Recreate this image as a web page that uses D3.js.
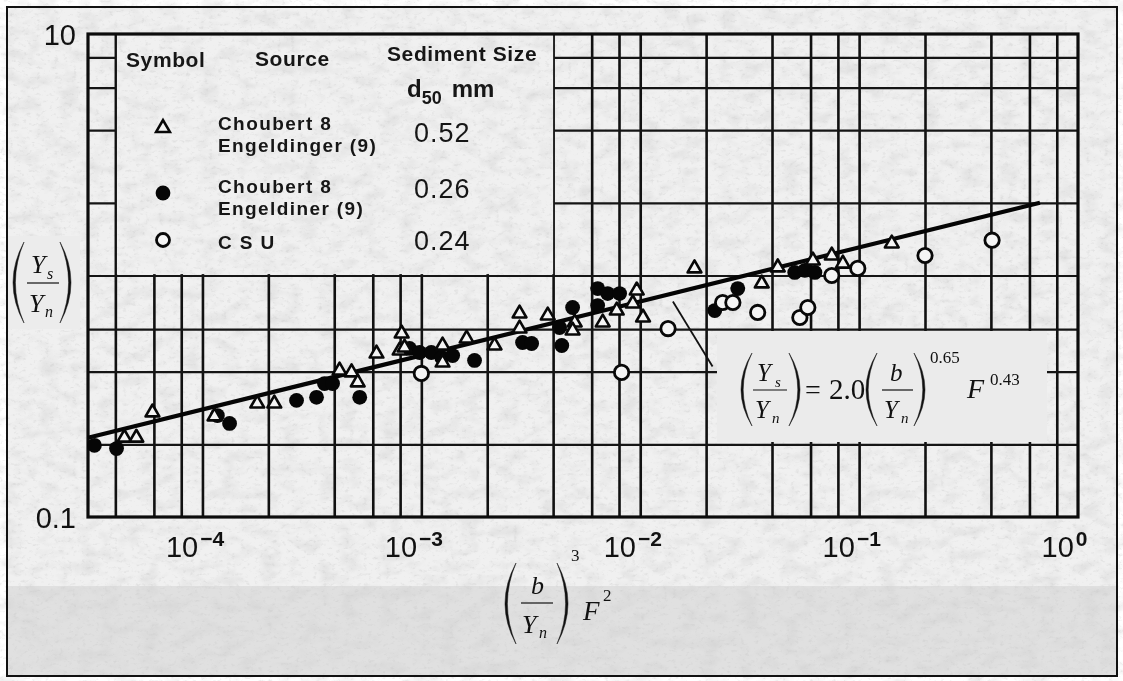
<!DOCTYPE html>
<html>
<head>
<meta charset="utf-8">
<script src="https://cdn.jsdelivr.net/npm/d3@7/dist/d3.min.js"></script>
<style>
  html, body { margin: 0; padding: 0; background: #ffffff; }
  svg { display: block; }
  .sans { font-family: "Liberation Sans", Arial, Helvetica, sans-serif; }
  .serif { font-family: "Liberation Serif", "Times New Roman", serif; }
</style>
</head>
<body>
<svg id="chart" width="1123" height="681"></svg>
<script>
// ---- Data: scour depth ratio vs. combined width / Froude parameter ----
// Choubert & Engeldinger (9), d50 = 0.52 mm (open triangles)
const triX = [4.4e-5, 4.99e-5, 5.91e-5, 1.135e-4, 1.78e-4, 2.13e-4, 4.23e-4, 4.8e-4, 5.12e-4, 6.24e-4,
              7.96e-4, 8.13e-4, 8.38e-4, 1.25e-3, 1.25e-3, 1.61e-3, 2.16e-3, 2.81e-3, 2.81e-3, 3.78e-3,
              5.02e-3, 4.91e-3, 6.74e-3, 7.81e-3, 9.25e-3, 9.64e-3, 1.03e-2, 1.77e-2, 3.59e-2, 4.25e-2,
              6.15e-2, 7.5e-2, 8.43e-2, 0.141];
const triY = [0.213, 0.213, 0.271, 0.261, 0.295, 0.295, 0.404, 0.397, 0.361, 0.475,
              0.489, 0.575, 0.503, 0.513, 0.436, 0.548, 0.513, 0.696, 0.603, 0.683,
              0.639, 0.592, 0.639, 0.716, 0.766, 0.867, 0.670, 1.07, 0.927, 1.08,
              1.154, 1.21, 1.12, 1.357];

// Choubert & Engeldiner (9), d50 = 0.26 mm (filled circles)
const dotX = [3.21e-5, 4.05e-5, 1.17e-4, 1.33e-4, 2.69e-4, 3.32e-4, 3.61e-4, 3.93e-4, 5.23e-4, 8.83e-4,
              9.82e-4, 1.11e-3, 1.24e-3, 1.39e-3, 1.75e-3, 2.9e-3, 3.19e-3, 4.28e-3, 4.38e-3, 4.91e-3,
              6.39e-3, 7.1e-3, 8.05e-3, 6.39e-3, 2.19e-2, 2.79e-2, 5.08e-2, 5.65e-2, 6.28e-2];
const dotY = [0.198, 0.192, 0.263, 0.244, 0.304, 0.313, 0.357, 0.357, 0.313, 0.499,
              0.480, 0.480, 0.457, 0.466, 0.445, 0.528, 0.523, 0.609, 0.513, 0.737,
              0.883, 0.842, 0.842, 0.751, 0.716, 0.883, 1.03, 1.05, 1.03];

// CSU, d50 = 0.24 mm (open circles)
const csuX = [1.0e-3, 8.22e-3, 1.34e-2, 2.38e-2, 2.65e-2, 3.44e-2, 5.36e-2, 5.83e-2, 7.5e-2, 9.86e-2, 0.2, 0.405];
const csuY = [0.393, 0.397, 0.603, 0.773, 0.773, 0.703, 0.670, 0.737, 1.0, 1.07, 1.21, 1.40];

// Fitted relation, drawn as a straight line on the log-log grid
const fitX = [3e-5, 0.67];
const fitY = [0.213, 2.0];

// Leader from the fitted line down to the equation
const leaderX = [0.0141, 0.0214];
const leaderY = [0.78, 0.42];

// Axes: domains, grid lines and labelled decades
const xDomain = [3e-5, 1];
const yDomain = [0.1, 10];
const xGridValues = [4e-5, 6e-5, 8e-5, 1e-4, 2e-4, 4e-4, 6e-4, 8e-4, 1e-3, 2e-3, 4e-3, 6e-3, 8e-3,
                     1e-2, 2e-2, 4e-2, 6e-2, 8e-2, 0.1, 0.2, 0.4, 0.6, 0.8];
const yGridValues = [0.2, 0.4, 0.6, 1, 2, 4, 6, 8];
const xTickValues = [1e-4, 1e-3, 1e-2, 1e-1, 1];
const xTickExponents = ["\u22124", "\u22123", "\u22122", "\u22121", "0"];
const yTickValues = [0.1, 10];
const yTickLabels = ["0.1", "10"];

// Legend rows
const legendSources = [["Choubert 8", "Engeldinger (9)"], ["Choubert 8", "Engeldiner (9)"], ["C S U"]];
const legendSizes = ["0.52", "0.26", "0.24"];

// ---- Layout ----
const W = 1123, H = 681;
const plot = { left: 88, right: 1078, top: 34, bottom: 517 };
const svg = d3.select("#chart");
const defs = svg.append("defs");

// paper grain
const grain = defs.append("filter").attr("id", "grain")
  .attr("filterUnits", "userSpaceOnUse").attr("x", 0).attr("y", 0).attr("width", W).attr("height", H);
grain.append("feTurbulence").attr("type", "fractalNoise").attr("baseFrequency", "0.22 0.3")
  .attr("numOctaves", 4).attr("seed", 11).attr("result", "noise");
grain.append("feColorMatrix").attr("type", "matrix")
  .attr("values", "0 0 0 0 0.55  0 0 0 0 0.55  0 0 0 0 0.55  -3.4 0 0 0 1.45");

const grainSoft = defs.append("filter").attr("id", "grainSoft")
  .attr("filterUnits", "userSpaceOnUse").attr("x", 0).attr("y", 0).attr("width", W).attr("height", H);
grainSoft.append("feTurbulence").attr("type", "fractalNoise").attr("baseFrequency", "0.05 0.08")
  .attr("numOctaves", 3).attr("seed", 4);
grainSoft.append("feColorMatrix").attr("type", "matrix")
  .attr("values", "0 0 0 0 0.6  0 0 0 0 0.6  0 0 0 0 0.6  -2.2 0 0 0 1.25");

// background
svg.append("rect").attr("x", 0).attr("y", 0).attr("width", W).attr("height", H).attr("fill", "#ffffff");
svg.append("rect").attr("x", 7).attr("y", 7).attr("width", 1110).attr("height", 669).attr("fill", "#f0f0f0");
svg.append("rect").attr("x", 7).attr("y", 586).attr("width", 1110).attr("height", 90).attr("fill", "#e0e0e0");
svg.append("rect").attr("x", 7).attr("y", 586).attr("width", 1110).attr("height", 90)
  .attr("filter", "url(#grainSoft)").attr("opacity", 0.4);
svg.append("rect").attr("x", 7).attr("y", 7).attr("width", 1110).attr("height", 579)
  .attr("filter", "url(#grain)").attr("opacity", 0.32);

// scales
const x = d3.scaleLog().domain(xDomain).range([plot.left, plot.right]);
const y = d3.scaleLog().domain(yDomain).range([plot.bottom, plot.top]);

// the legend panel sits inside the grid, where no grid lines are drawn
const legendPanel = { x0: x(4e-5), x1: x(4e-3), y0: plot.top, y1: y(1) };
const mask = defs.append("mask").attr("id", "gridMask").attr("maskUnits", "userSpaceOnUse")
  .attr("x", 0).attr("y", 0).attr("width", W).attr("height", H);
mask.append("rect").attr("x", 0).attr("y", 0).attr("width", W).attr("height", H).attr("fill", "white");
mask.append("rect").attr("x", legendPanel.x0 + 1.6).attr("y", legendPanel.y0)
  .attr("width", legendPanel.x1 - legendPanel.x0 - 1.6).attr("height", legendPanel.y1 - legendPanel.y0 - 1.4)
  .attr("fill", "black");

const gridG = svg.append("g").attr("mask", "url(#gridMask)");
const plotH = plot.bottom - plot.top, plotW = plot.right - plot.left;

gridG.append("g").attr("transform", `translate(0,${plot.bottom})`)
  .call(d3.axisBottom(x).tickValues(xGridValues).tickSize(-plotH).tickFormat(""))
  .call(g => g.select(".domain").remove())
  .call(g => g.selectAll("line").attr("stroke", "#111").attr("stroke-width", 2.6));

gridG.append("g").attr("transform", `translate(${plot.left},0)`)
  .call(d3.axisLeft(y).tickValues(yGridValues).tickSize(-plotW).tickFormat(""))
  .call(g => g.select(".domain").remove())
  .call(g => g.selectAll("line").attr("stroke", "#151515").attr("stroke-width", 2.2));

// frame of the plot
svg.append("rect").attr("x", plot.left).attr("y", plot.top).attr("width", plotW).attr("height", plotH)
  .attr("fill", "none").attr("stroke", "#0c0c0c").attr("stroke-width", 3.2);

// equation panel (covers the grid)
svg.append("rect").attr("x", 717).attr("y", 331).attr("width", 330).attr("height", 111).attr("fill", "#ebebeb");

// ---- tick labels ----
const xAxisG = svg.append("g").attr("transform", `translate(0,${plot.bottom})`)
  .call(d3.axisBottom(x).tickValues(xTickValues).tickSize(0).tickFormat(""));
xAxisG.select(".domain").remove();
xAxisG.selectAll(".tick").each(function (d, i) {
  const t = d3.select(this).append("text").attr("class", "sans")
    .attr("x", -37).attr("y", 40).attr("fill", "#111").attr("text-anchor", "start")
    .style("font-size", "29px");
  t.append("tspan").text("10");
  t.append("tspan").attr("dy", -11).attr("dx", 2).style("font-size", "21px").style("font-weight", "bold")
    .text(xTickExponents[i]);
});

const yAxisG = svg.append("g").attr("transform", `translate(${plot.left},0)`)
  .call(d3.axisLeft(y).tickValues(yTickValues).tickSize(0).tickFormat((d, i) => yTickLabels[i]));
yAxisG.select(".domain").remove();
yAxisG.selectAll("text").attr("class", "sans").attr("x", -12).attr("dy", "0.36em")
  .attr("fill", "#111").style("font-size", "29px");

// ---- fitted line and leader ----
const lineGen = d3.line().x(d => x(d[0])).y(d => y(d[1]));
svg.append("path").datum(d3.zip(fitX, fitY)).attr("d", lineGen)
  .attr("fill", "none").attr("stroke", "#050505").attr("stroke-width", 4.2).attr("stroke-linecap", "butt");
svg.append("path").datum(d3.zip(leaderX, leaderY)).attr("d", lineGen)
  .attr("fill", "none").attr("stroke", "#111").attr("stroke-width", 1.8);

// ---- markers ----
const tri = d3.symbol().type(d3.symbolTriangle).size(82);
const markG = svg.append("g");
markG.selectAll("circle.dot").data(d3.zip(dotX, dotY)).join("circle").attr("class", "dot")
  .attr("cx", d => x(d[0])).attr("cy", d => y(d[1])).attr("r", 7.4).attr("fill", "#060606");
markG.selectAll("path.tri").data(d3.zip(triX, triY)).join("path").attr("class", "tri")
  .attr("d", tri).attr("transform", d => `translate(${x(d[0])},${y(d[1])})`)
  .attr("fill", "#f4f4f4").attr("stroke", "#080808").attr("stroke-width", 2.6).attr("stroke-linejoin", "round");
markG.selectAll("circle.csu").data(d3.zip(csuX, csuY)).join("circle").attr("class", "csu")
  .attr("cx", d => x(d[0])).attr("cy", d => y(d[1])).attr("r", 7.2)
  .attr("fill", "#f4f4f4").attr("stroke", "#080808").attr("stroke-width", 2.8);

// ---- legend ----
const lg = svg.append("g").attr("class", "sans").attr("fill", "#161616").style("font-weight", "bold");
lg.append("text").attr("x", 126).attr("y", 67).style("font-size", "21px").style("letter-spacing", "0.6px").text("Symbol");
lg.append("text").attr("x", 255).attr("y", 66).style("font-size", "21px").style("letter-spacing", "0.6px").text("Source");
lg.append("text").attr("x", 387).attr("y", 61).style("font-size", "21px").style("letter-spacing", "0.6px").text("Sediment Size");
const d50 = lg.append("text").attr("x", 407).attr("y", 97).style("font-size", "24px");
d50.append("tspan").text("d");
d50.append("tspan").attr("dy", 7).style("font-size", "18px").text("50");
d50.append("tspan").attr("dy", -7).attr("dx", 10).text("mm");

const rowY = [128, 193, 240];
lg.append("path").attr("d", tri()).attr("transform", `translate(163,${rowY[0]})`)
  .attr("fill", "#f4f4f4").attr("stroke", "#080808").attr("stroke-width", 2.6);
lg.append("circle").attr("cx", 163).attr("cy", rowY[1]).attr("r", 7.4).attr("fill", "#060606");
lg.append("circle").attr("cx", 163).attr("cy", rowY[2]).attr("r", 6.5)
  .attr("fill", "#f4f4f4").attr("stroke", "#080808").attr("stroke-width", 2.8);

// source names: two-line entries get one text line per row
const srcBase = [[130, 152], [193, 215], [249]];
legendSources.forEach((lines, i) => {
  lines.forEach((s, j) => {
    lg.append("text").attr("x", 218).attr("y", srcBase[i][j]).style("font-size", "19px")
      .style("letter-spacing", "1.4px").text(s);
  });
});
const sizeBase = [142, 198, 250];
legendSizes.forEach((s, i) => {
  lg.append("text").attr("x", 414).attr("y", sizeBase[i]).style("font-size", "27px")
    .style("font-weight", "normal").style("letter-spacing", "1px").text(s);
});

// ---- math labels ----
function paren(g, xl, y0, y1, open, w, t) {
  const mid = (y0 + y1) / 2;
  let d;
  if (open) {
    const xr = xl + w;
    d = `M${xr},${y0} Q${2 * xl - xr},${mid} ${xr},${y1} Q${2 * (xl + t) - xr},${mid} ${xr},${y0} Z`;
  } else {
    const xr = xl + w; // bulge on the right
    d = `M${xl},${y0} Q${2 * xr - xl},${mid} ${xl},${y1} Q${2 * (xr - t) - xl},${mid} ${xl},${y0} Z`;
  }
  g.append("path").attr("d", d).attr("fill", "#111").attr("stroke", "#111").attr("stroke-width", 0.5);
}
function italic(g, s, px, py, size) {
  return g.append("text").attr("class", "serif").attr("x", px).attr("y", py)
    .style("font-style", "italic").style("font-size", size + "px").attr("fill", "#111").text(s);
}
function roman(g, s, px, py, size) {
  return g.append("text").attr("class", "serif").attr("x", px).attr("y", py)
    .style("font-size", size + "px").attr("fill", "#111").text(s);
}
function bar(g, x0, x1, yy) {
  g.append("line").attr("x1", x0).attr("x2", x1).attr("y1", yy).attr("y2", yy)
    .attr("stroke", "#111").attr("stroke-width", 1.2);
}

// y-axis title: (Ys / Yn)
svg.append("rect").attr("x", 8).attr("y", 236).attr("width", 72).attr("height", 93).attr("fill", "#ececec");
const yt = svg.append("g");
paren(yt, 13, 242, 323, true, 11, 2.4);
italic(yt, "Y", 31, 273, 26); italic(yt, "s", 47, 279, 16);
bar(yt, 27, 59, 283);
italic(yt, "Y", 29, 312, 26); italic(yt, "n", 45, 317, 16);
paren(yt, 60, 242, 323, false, 11, 2.4);

// x-axis title: (b / Yn)^3 F^2
const xt = svg.append("g");
paren(xt, 505, 563, 644, true, 11, 2.4);
italic(xt, "b", 531, 594, 26);
bar(xt, 521, 553, 603);
italic(xt, "Y", 522, 633, 26); italic(xt, "n", 539, 638, 16);
paren(xt, 557, 563, 644, false, 11, 2.4);
roman(xt, "3", 571, 561, 17);
italic(xt, "F", 583, 620, 27);
roman(xt, "2", 603, 601, 17);

// fitted equation
const eq = svg.append("g");
paren(eq, 741, 353, 426, true, 11, 2.2);
italic(eq, "Y", 757, 381, 25); italic(eq, "s", 775, 387, 15);
bar(eq, 753, 787, 390);
italic(eq, "Y", 755, 418, 25); italic(eq, "n", 772, 423, 15);
paren(eq, 789, 353, 426, false, 11, 2.2);
roman(eq, "=", 805, 399, 28);
roman(eq, "2.0", 829, 399, 29);
paren(eq, 866, 353, 426, true, 11, 2.2);
italic(eq, "b", 890, 381, 25);
bar(eq, 882, 913, 390);
italic(eq, "Y", 884, 418, 25); italic(eq, "n", 901, 423, 15);
paren(eq, 914, 353, 426, false, 11, 2.2);
roman(eq, "0.65", 930, 363, 17);
italic(eq, "F", 967, 398, 28);
roman(eq, "0.43", 990, 385, 17);

// outer frame
svg.append("rect").attr("x", 7).attr("y", 7).attr("width", 1110).attr("height", 669)
  .attr("fill", "none").attr("stroke", "#111").attr("stroke-width", 2);
</script>
</body>
</html>
